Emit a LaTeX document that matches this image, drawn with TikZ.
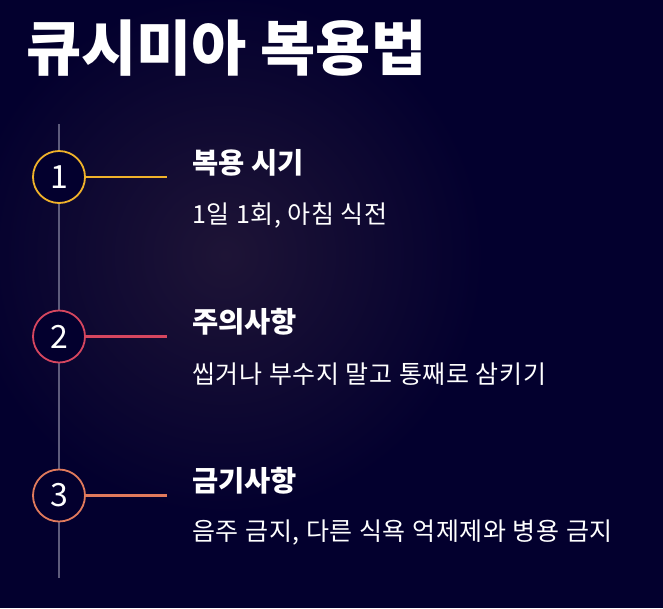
\documentclass[tikz,border=0pt]{standalone}
\usepackage{fontspec}
\setmainfont{Noto Sans CJK KR}
\newfontfamily\kr{Noto Sans CJK KR}
\newfontfamily\krbody[LetterSpace=3]{Noto Sans CJK KR}
\usetikzlibrary{calc}
\definecolor{bgdark}{HTML}{03002E}
\definecolor{bgglow}{HTML}{1E1436}
\definecolor{railgray}{HTML}{5E5C7C}
\definecolor{cone}{HTML}{F0B22A}
\definecolor{ctwo}{HTML}{D6465F}
\definecolor{cthree}{HTML}{E07A5C}
\tikzset{
  stepcircle/.style={circle, draw=#1, line width=1.8pt, minimum size=52pt, inner sep=0pt, text=white, font=\kr\fontsize{32}{32}\selectfont},
  connector/.style={draw=#1, line width=2.8pt},
  heading/.style={anchor=west, inner sep=0pt, text=white, font=\kr\bfseries\fontsize{28.5}{28.5}\selectfont},
  bodytext/.style={anchor=west, inner sep=0pt, text=white, font=\krbody\fontsize{25}{25}\selectfont},
  titletext/.style={anchor=west, inner sep=0pt, text=white, font=\kr\bfseries\fontsize{60}{60}\selectfont},
  rail/.style={draw=railgray, line width=1.6pt}
}
\begin{document}
\begin{tikzpicture}[x=1pt, y=-1pt]
\useasboundingbox (0,0) rectangle (663,608);
\fill[bgdark] (0,0) rectangle (663,608);
\begin{scope}
\clip (0,0) rectangle (663,608);
\shade[inner color=bgglow, outer color=bgdark] (225,255) circle (260);
\end{scope}
\node[titletext] (title) at (26,48.5) {큐시미아 복용법};
\coordinate (railtop) at (59,124);
\coordinate (railbot) at (59,578);
\draw[rail] (railtop) -- (railbot);
\node[stepcircle=cone, fill=bgdark] (c1) at (59,177) {1};
\node[stepcircle=ctwo, fill=bgdark] (c2) at (59,336.5) {2};
\node[stepcircle=cthree, fill=bgdark] (c3) at (59,495.5) {3};
\coordinate (e1) at (166.5,177);
\coordinate (e2) at (166.5,336.5);
\coordinate (e3) at (166.5,495.5);
\draw[connector=cone] (c1.east) -- (e1);
\draw[connector=ctwo] (c2.east) -- (e2);
\draw[connector=cthree] (c3.east) -- (e3);
\node[heading] (h1) at (192,162.5) {복용 시기};
\node[bodytext] (b1) at (192,215) {1일 1회, 아침 식전};
\node[heading] (h2) at (192,321.5) {주의사항};
\node[bodytext] (b2) at (192,374) {씹거나 부수지 말고 통째로 삼키기};
\node[heading] (h3) at (192,481) {금기사항};
\node[bodytext] (b3) at (192,533) {음주 금지, 다른 식욕 억제제와 병용 금지};
\end{tikzpicture}
\end{document}
